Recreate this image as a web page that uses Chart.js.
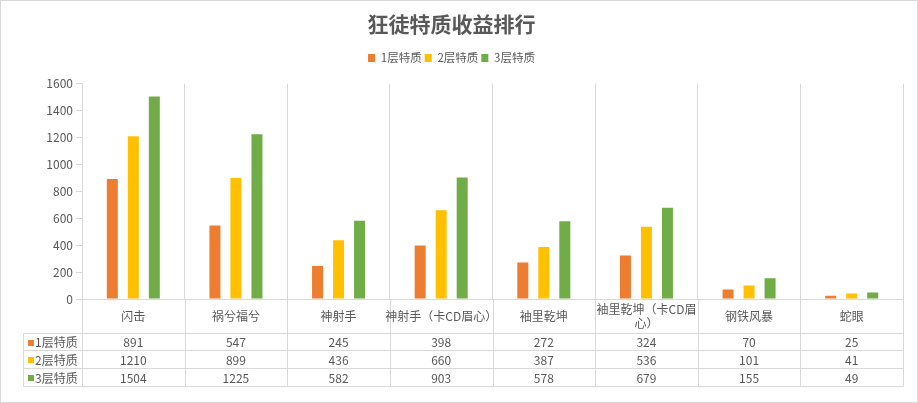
<!DOCTYPE html>
<html lang="zh-CN">
<head>
<meta charset="UTF-8">
<title>狂徒特质收益排行</title>
<script src="https://cdn.jsdelivr.net/npm/chart.js@4.4.1/dist/chart.umd.min.js"></script>
<style>
  html, body { margin: 0; padding: 0; background: #fff; }
  #wrap { width: 918px; height: 403px; position: relative; }
</style>
</head>
<body>
<div id="wrap"><canvas id="chart"></canvas></div>
<script>
// ==================== 数据 ====================
const categories = ['闪击', '祸兮福兮', '神射手', '神射手（卡CD眉心）', '袖里乾坤', ['袖里乾坤（卡CD眉', '心）'], '钢铁风暴', '蛇眼'];
const seriesNames = ['1层特质', '2层特质', '3层特质'];
const tier1 = [891, 547, 245, 398, 272, 324, 70, 25];
const tier2 = [1210, 899, 436, 660, 387, 536, 101, 41];
const tier3 = [1504, 1225, 582, 903, 578, 679, 155, 49];
const yMin = 0, yMax = 1600, yStep = 200;

const colors = ['#ED7D31', '#FFC000', '#70AD47'];
const gridColor = '#D9D9D9';
const textColor = '#595959';
const FONT = "'Microsoft YaHei', 'Noto Sans CJK SC', sans-serif";

Chart.defaults.font.family = FONT;
Chart.defaults.color = textColor;

/** 白底 + 外边框 */
const frame = {
  id: 'frame',
  beforeDraw(chart) {
    const ctx = chart.ctx;
    ctx.save();
    ctx.fillStyle = '#fff';
    ctx.fillRect(0, 0, chart.width, chart.height);
    ctx.strokeStyle = gridColor;
    ctx.lineWidth = 1;
    ctx.strokeRect(0.5, 0.5, chart.width - 1, chart.height - 1);
    ctx.restore();
  }
};

/** 图表下方的数据表（模拟 Excel 的模拟运算表） */
const dataTable = {
  id: 'dataTable',
  afterDraw(chart) {
    const ctx = chart.ctx;
    const x = chart.scales.x;
    const area = chart.chartArea;
    const n = chart.data.labels.length;
    const cw = (area.right - area.left) / n;
    const rowTops = [333, 350, 368, 386];   // 每行的分隔线
    const headerLeft = 23;

    ctx.save();
    ctx.strokeStyle = gridColor;
    ctx.lineWidth = 1;

    // 竖线延伸到表格
    for (let i = 0; i <= n; i++) {
      const px = Math.round(area.left + i * cw) + 0.5;
      ctx.beginPath();
      ctx.moveTo(px, area.bottom);
      ctx.lineTo(px, rowTops[3] + 0.5);
      ctx.stroke();
    }
    // 横线
    rowTops.forEach(y => {
      ctx.beginPath();
      ctx.moveTo(headerLeft, y + 0.5);
      ctx.lineTo(area.right, y + 0.5);
      ctx.stroke();
    });
    ctx.beginPath();
    ctx.moveTo(headerLeft + 0.5, rowTops[0]);
    ctx.lineTo(headerLeft + 0.5, rowTops[3] + 0.5);
    ctx.stroke();

    // 分类标签
    ctx.fillStyle = textColor;
    ctx.textAlign = 'center';
    ctx.textBaseline = 'middle';
    ctx.font = '12px ' + FONT;
    const labelMid = (area.bottom + rowTops[0]) / 2 + 0.5;
    chart.data.labels.forEach((lab, i) => {
      const cx = x.getPixelForValue(i);
      const lines = Array.isArray(lab) ? lab : [lab];
      const lh = 14;
      const y0 = labelMid - (lines.length - 1) * lh / 2;
      lines.forEach((t, k) => ctx.fillText(t, cx, y0 + k * lh));
    });

    // 数据行
    chart.data.datasets.forEach((ds, r) => {
      const yc = (rowTops[r] + rowTops[r + 1]) / 2 + 1;
      ctx.fillStyle = ds.backgroundColor;
      ctx.fillRect(headerLeft + 5, Math.round(yc - 3), 6, 6);
      ctx.fillStyle = textColor;
      ctx.textAlign = 'left';
      ctx.fillText(ds.label, headerLeft + 12, yc);
      ctx.textAlign = 'center';
      ds.data.forEach((v, i) => ctx.fillText(String(v), x.getPixelForValue(i), yc));
    });
    ctx.restore();
  }
};

new Chart(document.getElementById('chart'), {
  type: 'bar',
  data: {
    labels: categories,
    datasets: [tier1, tier2, tier3].map((d, i) => ({
      label: seriesNames[i],
      data: d,
      backgroundColor: colors[i],
      borderWidth: 0,
      categoryPercentage: 0.614,
      barPercentage: 0.524
    }))
  },
  options: {
    responsive: true,
    maintainAspectRatio: false,
    animation: false,
    layout: { padding: { left: 0, right: 15, top: 0, bottom: 104 } },
    plugins: {
      title: {
        display: true,
        text: '狂徒特质收益排行',
        color: textColor,
        font: { size: 21, weight: 'bold', lineHeight: 1.2 },
        padding: { top: 11, bottom: 13 }
      },
      legend: {
        position: 'top',
        labels: {
          boxWidth: 7,
          boxHeight: 8,
          padding: 3,
          color: textColor,
          font: { size: 11.5 }
        }
      },
      // 仅用作图例与绘图区之间的留白
      subtitle: {
        display: true,
        text: '',
        weight: 500,
        font: { size: 1, lineHeight: 1 },
        padding: { top: 0, bottom: 9 }
      },
      tooltip: { enabled: false }
    },
    scales: {
      x: {
        grid: { color: gridColor, offset: true, drawTicks: false },
        border: { color: gridColor },
        ticks: { display: false }
      },
      y: {
        min: yMin,
        max: yMax,
        afterFit(scale) { scale.width = 82; },
        ticks: {
          stepSize: yStep,
          padding: 3,
          color: textColor,
          font: { size: 12 },
          callback: v => String(v)
        },
        grid: { drawOnChartArea: false, color: gridColor, tickLength: 6 },
        border: { color: gridColor }
      }
    }
  },
  plugins: [frame, dataTable]
});
</script>
</body>
</html>
